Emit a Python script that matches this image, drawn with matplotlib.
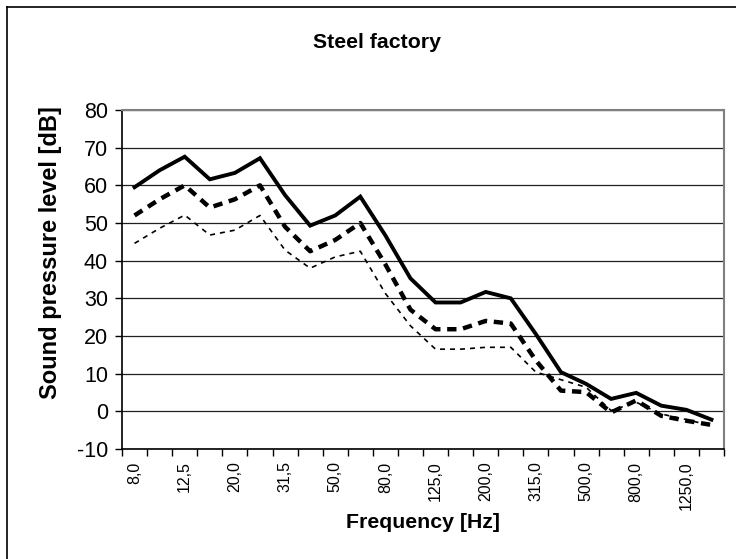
import numpy as np
import matplotlib
matplotlib.use("Agg")
import matplotlib.pyplot as plt
from matplotlib.lines import Line2D

plt.rcParams['font.family'] = ['Liberation Sans', 'DejaVu Sans']
plt.rcParams['axes.unicode_minus'] = False

# 1/3 octave band centre frequencies (labels as in the original, decimal comma)
freq_labels = ["8,0", "10,0", "12,5", "16,0", "20,0", "25,0", "31,5", "40,0",
               "50,0", "63,0", "80,0", "100,0", "125,0", "160,0", "200,0", "250,0",
               "315,0", "400,0", "500,0", "630,0", "800,0", "1000,0", "1250,0", "1600,0"]

# sound pressure levels [dB]
level_solid = [59.5, 64, 67.6, 61.6, 63.3, 67.2, 57.4, 49.3, 52, 57, 46.7, 35.3,
               28.9, 28.9, 31.7, 30, 20.5, 10.4, 7.3, 3.3, 4.9, 1.5, 0.4, -2.2]
level_dashed = [52, 56.3, 60, 54.1, 56.3, 60, 49, 42.5, 45.5, 50, 39, 27,
                21.8, 21.8, 24, 23.3, 13.5, 5.5, 5.1, -0.3, 2.9, -1.2, -2.5, -3.6]
level_dotted = [44.6, 48.6, 52.1, 46.8, 48.1, 52, 42.8, 38, 41, 42.5, 31.3, 22.7,
                16.5, 16.5, 17, 17, 10.4, 8.4, 6.4, 0.2, 2.4, -0.7, -2.2, -3.8]

y_ticks = list(range(-10, 81, 10))

fig = plt.figure(figsize=(7.36, 5.59), dpi=100)
ax = fig.add_axes([122 / 736, 1 - 449 / 559, 602 / 736, 339 / 559])

x = np.arange(len(freq_labels))
ax.plot(x, level_solid, color='black', lw=2.8, solid_joinstyle='miter')
ax.plot(x, level_dashed, color='black', lw=3.2, dashes=(2.1, 1.5))
ax.plot(x, level_dotted, color='black', lw=1.2, dashes=(3.0, 3.0))

ax.set_xlim(-0.5, len(freq_labels) - 0.5)
ax.set_ylim(-10, 80)

# gridlines like the excel chart
ax.set_yticks(y_ticks)
ax.yaxis.grid(True, color='#202020', lw=0.9)
ax.set_axisbelow(True)
ax.tick_params(axis='y', direction='out', length=5, width=1, labelsize=15.5, pad=5)

# category ticks between bands, labels on every other band
ax.set_xticks(x[::2])
ax.set_xticklabels(freq_labels[::2], rotation=90, fontsize=11.5)
ax.set_xticks(np.arange(len(freq_labels) + 1) - 0.5, minor=True)
ax.tick_params(axis='x', which='major', length=0, pad=9)
ax.tick_params(axis='x', which='minor', direction='out', length=5, width=1)

for side in ['top', 'right']:
    ax.spines[side].set_color('#808080')
    ax.spines[side].set_linewidth(1.5)
for side in ['left', 'bottom']:
    ax.spines[side].set_color('black')
    ax.spines[side].set_linewidth(1.2)

fig.text(377 / 736, 1 - 43 / 559, "Steel factory", ha='center', va='center',
         fontsize=15.3, fontweight='bold')
ax.set_xlabel("Frequency [Hz]", fontsize=15.3, fontweight='bold')
ax.xaxis.set_label_coords(0.5, -0.19)
ax.set_ylabel("Sound pressure level [dB]", fontsize=17, fontweight='bold')
ax.yaxis.set_label_coords(-0.1, 0.58)

# outer chart frame (cropped on the right and bottom)
fig.add_artist(Line2D([7 / 736, 1], [1 - 7 / 559, 1 - 7 / 559], color='black', lw=1.2))
fig.add_artist(Line2D([7 / 736, 7 / 736], [0, 1 - 7 / 559], color='black', lw=1.2))

fig.savefig("out.png", dpi=100)
